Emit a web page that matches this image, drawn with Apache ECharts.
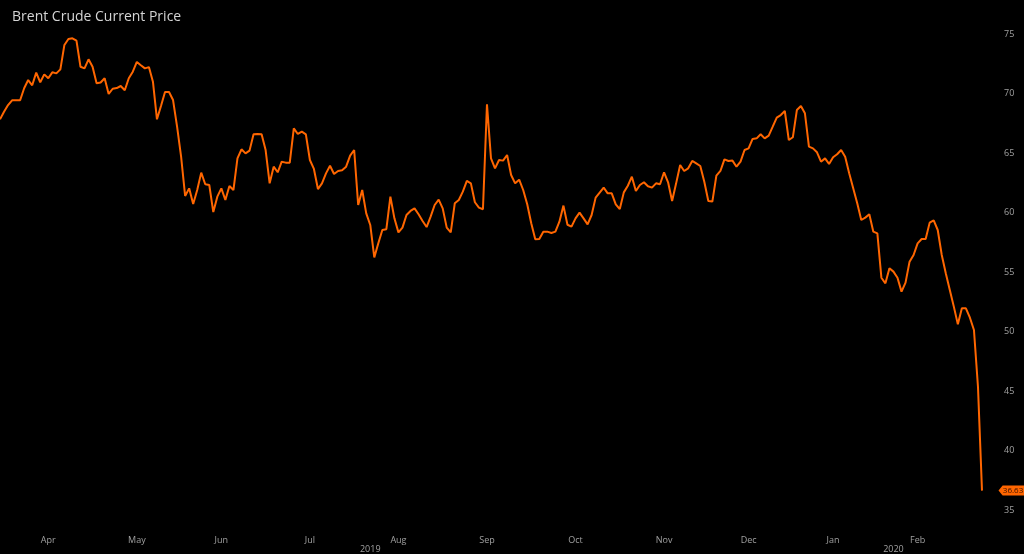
<!DOCTYPE html>
<html>
<head>
<meta charset="utf-8">
<script src="https://cdn.jsdelivr.net/npm/echarts@6/dist/echarts.min.js"></script>
<style>
html,body{margin:0;padding:0;background:#000;}
#c{width:1024px;height:554px;}
</style>
</head>
<body>
<div id="c"></div>
<script>
// ---- data ----
const startDate = '2019-03-28';
const endDate = '2020-03-09';
const holidays = ['2019-04-19', '2019-12-25', '2020-01-01'];

const mar2019 = [67.83, 68.47];
const apr2019 = [69.03, 69.43, 69.43, 69.43, 70.44, 71.13, 70.69, 71.75, 70.94, 71.61, 71.28, 71.78, 71.69, 72.03, 74.08, 74.58, 74.64, 74.44, 72.25, 72.11, 72.87];
const may2019 = [72.25, 70.86, 70.92, 71.28, 69.96, 70.40, 70.46, 70.63, 70.27, 71.28, 71.83, 72.65, 72.37, 72.11, 72.22, 70.99, 67.83, 68.95, 70.13, 70.13, 69.45, 67.21, 64.69];
const jun2019 = [61.39, 62.03, 60.71, 61.89, 63.35, 62.37, 62.31, 60.04, 61.33, 62.03, 61.05, 62.23, 61.89, 64.55, 65.31, 64.97, 65.20, 66.57, 66.60, 66.57];
const jul2019 = [65.25, 62.45, 63.85, 63.38, 64.27, 64.19, 64.19, 67.07, 66.60, 66.79, 66.57, 64.41, 63.66, 61.97, 62.45, 63.29, 63.93, 63.24, 63.49, 63.55, 63.85, 64.78, 65.25];
const aug2019 = [60.63, 61.89, 59.93, 58.95, 56.23, 57.41, 58.53, 58.60, 61.33, 59.51, 58.33, 58.73, 59.79, 60.13, 60.35, 59.85, 59.29, 58.78, 59.65, 60.63, 61.08, 60.35];
const sep2019 = [58.73, 58.33, 60.77, 61.05, 61.75, 62.65, 62.45, 60.86, 60.41, 60.27, 69.09, 64.55, 63.71, 64.41, 64.36, 64.83, 63.15, 62.45, 62.76, 61.89, 60.69];
const oct2019 = [59.09, 57.75, 57.78, 58.39, 58.39, 58.28, 58.39, 59.23, 60.58, 58.97, 58.81, 59.51, 59.99, 59.51, 59.00, 59.79, 61.25, 61.67, 62.09, 61.61, 61.61, 60.69, 60.29];
const nov2019 = [61.69, 62.25, 63.01, 61.81, 62.31, 62.54, 62.20, 62.09, 62.45, 62.37, 63.38, 62.54, 60.97, 62.45, 63.99, 63.49, 63.71, 64.33, 64.13, 63.91, 62.59];
const dec2019 = [60.97, 60.92, 63.10, 63.49, 64.47, 64.33, 64.36, 63.85, 64.27, 65.25, 65.39, 66.18, 66.23, 66.57, 66.23, 66.46, 67.21, 67.97, 68.19, 68.53, 66.09];
const jan2020 = [66.32, 68.61, 68.95, 68.34, 65.53, 65.39, 65.06, 64.27, 64.55, 64.08, 64.64, 64.89, 65.25, 64.69, 63.29, 62.03, 60.77, 59.37, 59.57, 59.85, 58.39, 58.25];
const feb2020 = [54.52, 54.05, 55.31, 55.03, 54.52, 53.35, 54.11, 55.87, 56.43, 57.41, 57.77, 57.77, 59.15, 59.34, 58.53, 56.43, 54.89, 53.49, 52.09, 50.60];
const mar2020 = [51.95, 51.95, 51.16, 50.13, 45.36, 36.63];

const monthKeys = ['2019-04', '2019-05', '2019-06', '2019-07', '2019-08', '2019-09', '2019-10', '2019-11', '2019-12', '2020-01', '2020-02'];
const monthLabels = ['Apr', 'May', 'Jun', 'Jul', 'Aug', 'Sep', 'Oct', 'Nov', 'Dec', 'Jan', 'Feb'];
const yearLabelDates = ['2019-08-06', '2020-02-06'];
const yearLabels = ['2019', '2020'];
const yMin = 35, yMax = 75, yStep = 5;

// ---- build ----
function tradingDays(s, e, skip) {
  const out = [];
  const d = new Date(s + 'T00:00:00Z');
  const end = new Date(e + 'T00:00:00Z');
  while (d <= end) {
    const w = d.getUTCDay();
    const iso = d.toISOString().slice(0, 10);
    if (w !== 0 && w !== 6 && skip.indexOf(iso) < 0) out.push(iso);
    d.setUTCDate(d.getUTCDate() + 1);
  }
  return out;
}
const dates = tradingDays(startDate, endDate, holidays);
const prices = [].concat(mar2019, apr2019, may2019, jun2019, jul2019, aug2019, sep2019, oct2019, nov2019, dec2019, jan2020, feb2020, mar2020);
const n = Math.min(dates.length, prices.length);
const cats = dates.slice(0, n);
const vals = prices.slice(0, n);

const monthIdx = {};
monthKeys.forEach((k, j) => {
  const idx = [];
  cats.forEach((d, i) => { if (d.slice(0, 7) === k) idx.push(i); });
  if (idx.length) monthIdx[Math.floor((idx[0] + idx[idx.length - 1]) / 2)] = monthLabels[j];
});
const yearIdx = {};
yearLabelDates.forEach((d, j) => { const i = cats.indexOf(d); if (i >= 0) yearIdx[i] = yearLabels[j]; });

const lastI = n - 1;
const chart = echarts.init(document.getElementById('c'));
const font = 'Open Sans, DejaVu Sans, sans-serif';
chart.setOption({
  backgroundColor: '#000',
  animation: false,
  title: {
    text: 'Brent Crude Current Price',
    left: 7, top: 5,
    textStyle: { color: '#d4d4d4', fontSize: 14, fontWeight: 'normal', fontFamily: font }
  },
  grid: { left: -1, right: 42, top: 34, bottom: 44, containLabel: false },
  xAxis: [{
    type: 'category', data: cats, boundaryGap: false,
    axisLine: { show: false }, axisTick: { show: false }, splitLine: { show: false },
    axisLabel: {
      interval: (i) => monthIdx[i] !== undefined,
      formatter: (v, i) => monthIdx[i] || '',
      color: '#a0a0a0', fontSize: 9, fontFamily: font, margin: 26
    }
  }, {
    type: 'category', data: cats, boundaryGap: false, position: 'bottom',
    axisLine: { show: false }, axisTick: { show: false }, splitLine: { show: false },
    axisLabel: {
      interval: (i) => yearIdx[i] !== undefined,
      formatter: (v, i) => yearIdx[i] || '',
      color: '#a0a0a0', fontSize: 9, fontFamily: font, margin: 35
    }
  }],
  yAxis: {
    type: 'value', position: 'right', min: yMin, max: yMax, interval: yStep,
    axisLine: { show: false }, axisTick: { show: false }, splitLine: { show: false },
    axisLabel: { color: '#a0a0a0', fontSize: 9, fontFamily: font, margin: 22 }
  },
  series: [{
    type: 'line', data: vals, xAxisIndex: 0,
    showSymbol: false, symbol: 'none',
    lineStyle: { color: '#ff6600', width: 2 },
    itemStyle: { color: '#ff6600' },
    markPoint: {
      silent: true,
      symbol: 'path://M0,5 L4,0 L26,0 L26,10 L4,10 Z',
      symbolKeepAspect: false,
      symbolSize: [27, 10],
      symbolOffset: [30, 0],
      itemStyle: { color: '#ff6600' },
      label: {
        show: true, position: 'inside', offset: [1, 0],
        formatter: () => vals[lastI].toFixed(2),
        color: '#3a1000', fontSize: 8, fontFamily: font
      },
      data: [{ coord: [cats[lastI], vals[lastI]] }]
    }
  }]
});
</script>
</body>
</html>
